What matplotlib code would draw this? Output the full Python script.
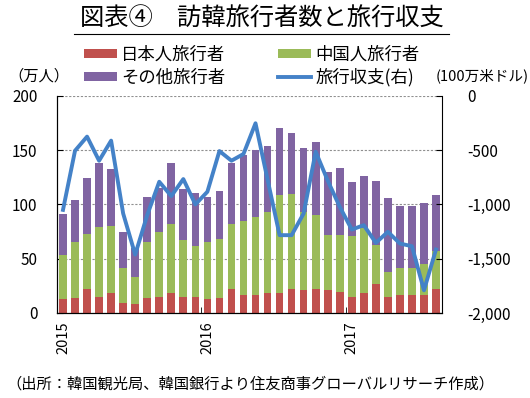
import numpy as np
import matplotlib
matplotlib.use("Agg")
import matplotlib.pyplot as plt
from matplotlib.lines import Line2D
from matplotlib.ticker import FuncFormatter

plt.rcParams['font.family'] = ['Noto Sans CJK JP', 'DejaVu Sans']

# monthly, 2015-01 .. 2017-08 (万人)
japan = [13, 14, 22, 15, 18, 9, 8, 14, 15, 18, 15, 15,
         13, 14, 22, 17, 17, 18, 18, 22, 21, 22, 21, 19,
         15, 18, 27, 15, 17, 17, 17, 22]
china = [40, 51, 51, 64, 62, 32, 25, 51, 60, 64, 52, 47,
         52, 54, 60, 68, 71, 75, 91, 88, 72, 68, 51, 53,
         56, 60, 36, 23, 24, 24, 28, 35]
other = [38, 39, 51, 59, 53, 34, 27, 42, 40, 56, 47, 49,
         42, 44, 56, 61, 62, 61, 61, 56, 59, 68, 58, 62,
         50, 48, 59, 68, 58, 58, 56, 52]
# travel balance (100万米ドル)
balance = [-1050, -505, -375, -597, -412, -1083, -1462, -1098, -791, -923, -766, -1000,
           -883, -508, -597, -535, -252, -770, -1283, -1283, -1083, -514, -780, -1022,
           -1231, -1191, -1354, -1252, -1360, -1385, -1791, -1415]
year_labels = ["2015", "2016", "2017"]

RED = "#C0504D"
GREEN = "#9BBB59"
PURPLE = "#8064A2"
BLUE = "#4482C8"

x = np.arange(len(japan))
japan = np.array(japan)
china = np.array(china)
other = np.array(other)

fig = plt.figure(figsize=(5.3, 3.98), dpi=100)
ax = fig.add_axes([0.1075, 0.2136, 0.7265, 0.5454])

w = 0.64
b1 = ax.bar(x, japan, w, color=RED, zorder=2)
b2 = ax.bar(x, china, w, bottom=japan, color=GREEN, zorder=2)
b3 = ax.bar(x, other, w, bottom=japan + china, color=PURPLE, zorder=2)

ax.set_xlim(-0.5, 31.5)
ax.set_ylim(0, 200)
ax.set_yticks([0, 50, 100, 150, 200])
ax.yaxis.grid(True, linestyle=(0, (2, 1.5)), color="#909090", linewidth=0.8, zorder=0)
ax.set_axisbelow(True)
ax.spines['top'].set_visible(False)
ax.spines['right'].set_visible(False)
ax.tick_params(axis='y', direction='in', length=4, labelsize=11, pad=14)
ax.set_xticks([0, 12, 24])
ax.set_xticklabels(year_labels, rotation=90, fontsize=10.5)
ax.tick_params(axis='x', length=0, pad=6)
ax.set_xticks([11.5, 23.5], minor=True)
ax.tick_params(axis='x', which='minor', direction='in', length=4)

ax2 = ax.twinx()
ln, = ax2.plot(x, balance, color=BLUE, linewidth=2.8, zorder=3)
ax2.set_ylim(-2000, 0)
ax2.set_yticks([-2000, -1500, -1000, -500, 0])
ax2.yaxis.set_major_formatter(FuncFormatter(lambda v, p: f"{int(v):,}"))
ax2.spines['top'].set_visible(False)
ax2.tick_params(axis='y', direction='in', length=4, labelsize=11, pad=18)

# title with underline
fig.text(0.495, 0.952, "図表④　訪韓旅行者数と旅行収支", ha='center', va='center', fontsize=17.5)
fig.add_artist(Line2D([0.14, 0.848], [0.915, 0.915], color='black', linewidth=0.8))

fig.legend([b1, b3, b2, ln], ["日本人旅行者", "その他旅行者", "中国人旅行者", "旅行収支(右)"],
           ncol=2, loc='center', bbox_to_anchor=(0.475, 0.833), frameon=False,
           fontsize=12.5, handlelength=1.9, handleheight=0.45, columnspacing=3.0,
           labelspacing=0.25, handletextpad=0.25, borderpad=0.1)

fig.text(0.015, 0.81, "（万人）", ha='left', va='center', fontsize=11)
fig.text(0.997, 0.81, "(100万米ドル)", ha='right', va='center', fontsize=10.5)
fig.text(0.012, 0.035, "（出所：韓国観光局、韓国銀行より住友商事グローバルリサーチ作成）",
         ha='left', va='center', fontsize=11)

fig.savefig("out.png", dpi=100)
